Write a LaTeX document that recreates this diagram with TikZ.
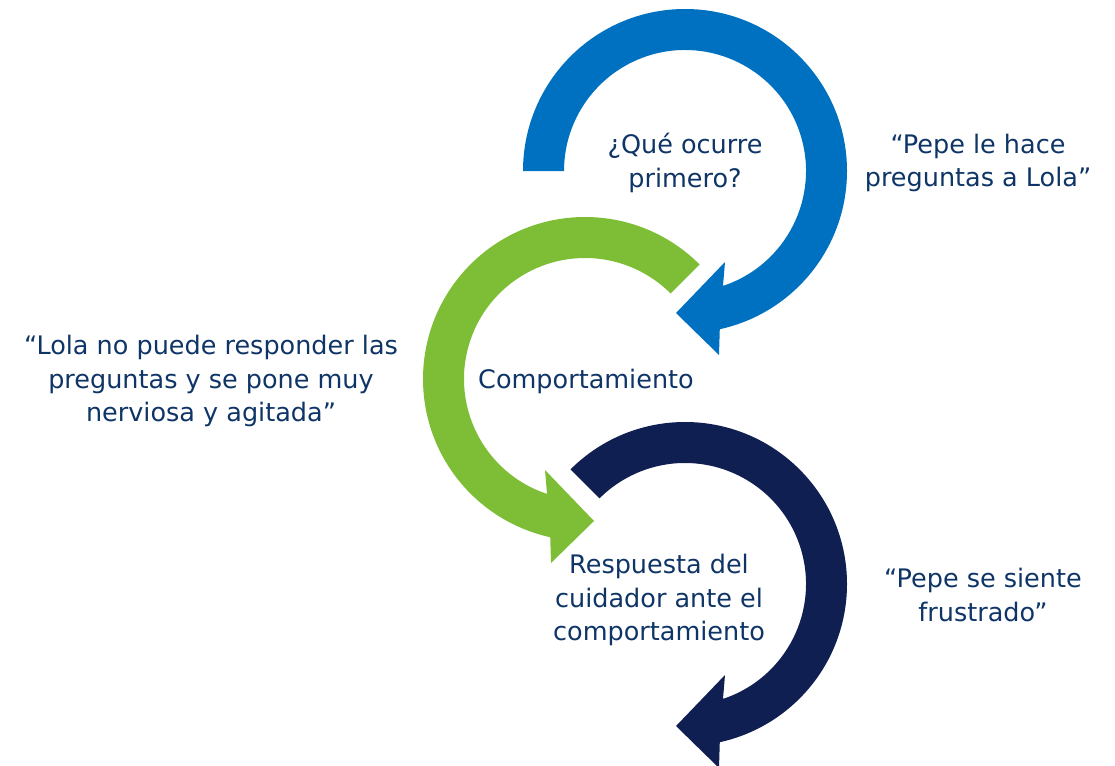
\documentclass[tikz,border=0pt]{standalone}
\usepackage{fontspec}
\setmainfont{DejaVu Sans}
\definecolor{cblue}{RGB}{0,112,192}
\definecolor{cgreen}{RGB}{126,190,54}
\definecolor{cnavy}{RGB}{16,31,82}
\definecolor{ctext}{RGB}{14,53,102}
\begin{document}
\begin{tikzpicture}[x=1pt,y=1pt,
  lbl/.style={text=ctext, align=center, font=\fontsize{25.5}{33.5}\selectfont, inner sep=0pt}]
\useasboundingbox (0,0) rectangle (1115,-765);
% blue circular arrow (clockwise)
\begin{scope}[shift={(685,-171)}]
\fill[cblue] (180:162) arc[start angle=180,end angle=-77.6,radius=162]
  -- (34,-184) -- (-9,-142) -- (40,-91) -- (-71.7:121)
  arc[start angle=-71.7,end angle=180,radius=121] -- cycle;
\end{scope}
% green circular arrow (counter-clockwise)
\begin{scope}[shift={(585,-379)}]
\fill[cgreen] (45:162) arc[start angle=45,end angle=257.6,radius=162]
  -- (-34,-184) -- (9,-142) -- (-40,-91) -- (251.7:121)
  arc[start angle=251.7,end angle=45,radius=121] -- cycle;
\end{scope}
% navy circular arrow (clockwise)
\begin{scope}[shift={(685,-584)}]
\fill[cnavy] (135:162) arc[start angle=135,end angle=-77.6,radius=162]
  -- (34,-184) -- (-9,-142) -- (40,-91) -- (-71.7:121)
  arc[start angle=-71.7,end angle=135,radius=121] -- cycle;
\end{scope}
\node[lbl] (q1) at (685,-163) {¿Qué ocurre\\primero?};
\node[lbl] (e1) at (978,-163) {“Pepe le hace\\preguntas a Lola”};
\node[lbl] (q2) at (586,-381) {Comportamiento};
\node[lbl] (e2) at (211,-381) {“Lola no puede responder las\\preguntas y se pone muy\\nerviosa y agitada”};
\node[lbl] (q3) at (659,-600) {Respuesta del\\cuidador ante el\\comportamiento};
\node[lbl] (e3) at (983,-595) {“Pepe se siente\\frustrado”};
\end{tikzpicture}
\end{document}
